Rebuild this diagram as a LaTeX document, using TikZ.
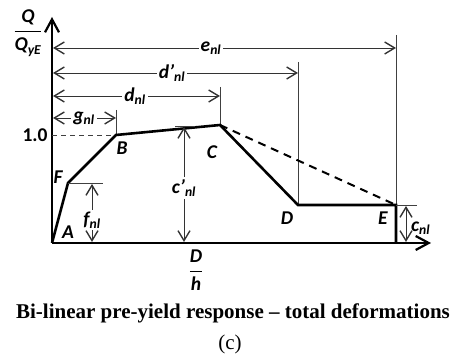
\documentclass[tikz,border=0pt]{standalone}
\usepackage{amsmath}
\usepackage{fontspec}
\usetikzlibrary{arrows.meta, positioning, calc}
\newfontfamily\labfont{Carlito}
\newfontfamily\capfont{Liberation Serif}

\begin{document}
\begin{tikzpicture}[x=1pt, y=-1pt,
  lab/.style={font=\labfont\bfseries\itshape\fontsize{19.5}{21}\selectfont, inner sep=1pt},
  dimlab/.style={lab, fill=white, inner sep=2pt},
  axis/.style={line width=2pt, -{Straight Barb[length=13pt, width=14pt, line width=2.2pt]}},
  dim/.style={draw=black!80, line width=0.9pt, {Straight Barb[length=10pt, width=12pt, line width=1.4pt]}-{Straight Barb[length=10pt, width=12pt, line width=1.4pt]}},
  guide/.style={draw=black!75, line width=0.9pt},
  curve/.style={line width=2.6pt, line join=miter}]
\useasboundingbox (0,0) rectangle (459,355);

% Points
\coordinate (O) at (52,243);
\coordinate (F) at (68,183);
\coordinate (B) at (116,135);
\coordinate (C) at (220,125);
\coordinate (D) at (298,205);
\coordinate (E) at (396,205);
\coordinate (Ebot) at (396,243);

% Axes
\coordinate (ytop) at (52,17);
\coordinate (xend) at (431,243);
\draw[axis] (O) -- (ytop);
\draw[axis] (O) -- (xend);
\node[lab] (qlab) at (28,33) {$\dfrac{\text{Q}}{\rule{0pt}{15pt}\text{Q\textsubscript{yE}}}$};
\node[lab] (dhlab) at (196,270) {$\dfrac{\text{D}}{\rule{0pt}{15pt}\text{h}}$};
\node[lab, font=\labfont\bfseries\fontsize{19.5}{21}\selectfont] (one) at (35,135) {1.0};

% Guides
\coordinate (gtop) at (116,110);
\coordinate (dtop) at (220,87);
\coordinate (dptop) at (298,62);
\coordinate (etop) at (396,35);
\draw[guide] (gtop) -- (B);
\draw[guide] (dtop) -- (C);
\draw[guide] (dptop) -- (D);
\draw[guide] (etop) -- (E);
\draw[guide, dashed, dash pattern=on 5pt off 4pt] (52,135) coordinate (yone) -- (B);

% Horizontal dimensions
\foreach \yy/\xx/\lx/\txt in {48/396/211/e, 73/298/172/d’, 96/220/135/d, 118/116/84/g} {
  \draw[dim] (53,\yy) -- (\xx,\yy);
  \node[dimlab] at (\lx,\yy) {\txt\textsubscript{nl}};
}

% Curve
\draw[curve] (O) -- (F) -- (B) -- (C) -- (D) -- (E) -- (Ebot);
\draw[curve, dashed, dash pattern=on 8pt off 6pt, line width=2pt] (C) -- (E);

% Vertical dimensions
\coordinate (ftick) at (103,183);
\coordinate (ctickl) at (175,126);
\coordinate (ctickr) at (195,126);
\coordinate (etick) at (417,205);
\draw[guide] (F) -- (ftick);
\draw[guide] (ctickl) -- (ctickr);
\draw[guide] (E) -- (etick);
\draw[dim] (92,184) -- (92,242);
\node[dimlab] (fnl) at (92,220) {f\textsubscript{nl}};
\draw[dim] (184,127) -- (184,242);
\node[dimlab] (cpnl) at (184,188) {c’\textsubscript{nl}};
\draw[dim] (406,206) -- (406,242);
\node[lab, anchor=west] (cnl) at (410,228) {c\textsubscript{nl}};

% Point labels
\node[lab] (labF) at (58,177) {F};
\node[lab] (labA) at (68,232) {A};
\node[lab] (labB) at (122,148) {B};
\node[lab] (labC) at (212,152) {C};
\node[lab] (labD) at (287,218) {D};
\node[lab] (labE) at (383,218) {E};

% Caption
\node[font=\capfont\bfseries\fontsize{21}{24}\selectfont] (cap) at (233,313) {Bi-linear pre-yield response – total deformations};
\node[font=\capfont\fontsize{21}{24}\selectfont] (sub) at (230,344) {(c)};
\end{tikzpicture}
\end{document}
